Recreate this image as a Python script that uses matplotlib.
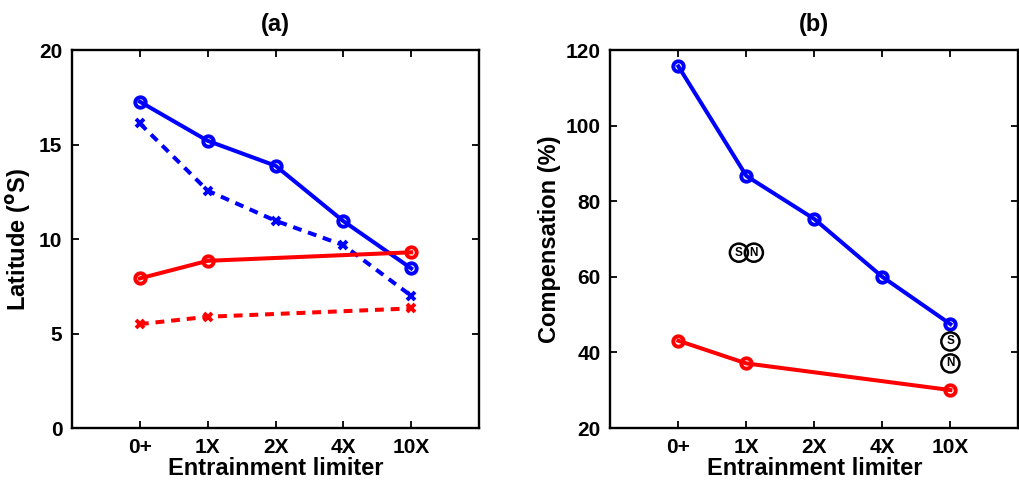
import matplotlib
matplotlib.use("Agg")
import matplotlib.pyplot as plt

# Категорії (обмежувач захоплення)
limiters = ["0+", "1X", "2X", "4X", "10X"]
x_all = [1, 2, 3, 4, 5]
x_part = [1, 2, 5]

# Панель (a): широта
lat_blue_solid = [17.27, 15.2, 13.88, 10.95, 8.45]
lat_blue_dashed = [16.12, 12.56, 10.97, 9.68, 7.0]
lat_red_solid = [7.92, 8.85, 9.3]
lat_red_dashed = [5.5, 5.89, 6.33]

# Панель (b): компенсація
comp_blue = [115.7, 86.7, 75.3, 60.0, 47.5]
comp_red = [43.1, 37.1, 30.05]

# Позначки S/N у колах
sn_x = [1.89, 2.11, 5.0, 5.0]
sn_y = [66.4, 66.4, 42.9, 37.1]
sn_text = ["S", "N", "S", "N"]

plt.rcParams["font.family"] = ["Liberation Sans", "DejaVu Sans"]
plt.rcParams["font.weight"] = "bold"
plt.rcParams["axes.labelweight"] = "bold"
plt.rcParams["axes.titleweight"] = "bold"

fig = plt.figure(figsize=(10.19, 4.96), dpi=100)
ax1 = fig.add_axes([0.0707, 0.137, 0.3994, 0.762])
ax2 = fig.add_axes([0.599, 0.137, 0.4004, 0.762])

lw = 2.9
ms = 7.5
mew = 2.8
dash = (2.2, 1.7)

ax1.plot(x_all, lat_blue_solid, "-", color="blue", lw=lw, marker="o", ms=ms, mfc="none", mew=mew)
ax1.plot(x_all, lat_blue_dashed, "--", color="blue", lw=lw, marker="x", ms=6, mew=mew, dashes=dash)
ax1.plot(x_part, lat_red_solid, "-", color="red", lw=lw, marker="o", ms=ms, mfc="none", mew=mew)
ax1.plot(x_part, lat_red_dashed, "--", color="red", lw=lw, marker="x", ms=6, mew=mew, dashes=dash)
ax1.set_ylim(0, 20)
ax1.set_yticks([0, 5, 10, 15, 20])
ax1.set_ylabel("Latitude ($^{\\bf o}$S)", fontsize=17)
ax1.yaxis.set_label_coords(-0.095, 0.5)
ax1.set_title("(a)", fontsize=17, pad=14)

ax2.plot(x_all, comp_blue, "-", color="blue", lw=lw, marker="o", ms=ms, mfc="none", mew=mew)
ax2.plot(x_part, comp_red, "-", color="red", lw=lw, marker="o", ms=ms, mfc="none", mew=mew)
ax2.scatter(sn_x, sn_y, s=170, facecolors="none", edgecolors="black", linewidths=1.8, zorder=3)
for xs, ys, t in zip(sn_x, sn_y, sn_text):
    ax2.text(xs, ys, t, ha="center", va="center", fontsize=8.5, fontweight="bold", zorder=4)
ax2.set_ylim(20, 120)
ax2.set_yticks([20, 40, 60, 80, 100, 120])
ax2.set_ylabel("Compensation (%)", fontsize=17)
ax2.yaxis.set_label_coords(-0.122, 0.5)
ax2.set_title("(b)", fontsize=17, pad=14)

for ax in (ax1, ax2):
    ax.set_xlim(0, 6)
    ax.set_xticks(x_all)
    ax.set_xticklabels(limiters)
    ax.set_xlabel("Entrainment limiter", fontsize=17, labelpad=0)
    ax.tick_params(direction="in", top=True, right=True, length=5, width=1.3,
                   labelsize=15, pad=7)
    for sp in ax.spines.values():
        sp.set_linewidth(1.7)

fig.savefig("out.png", dpi=100)
